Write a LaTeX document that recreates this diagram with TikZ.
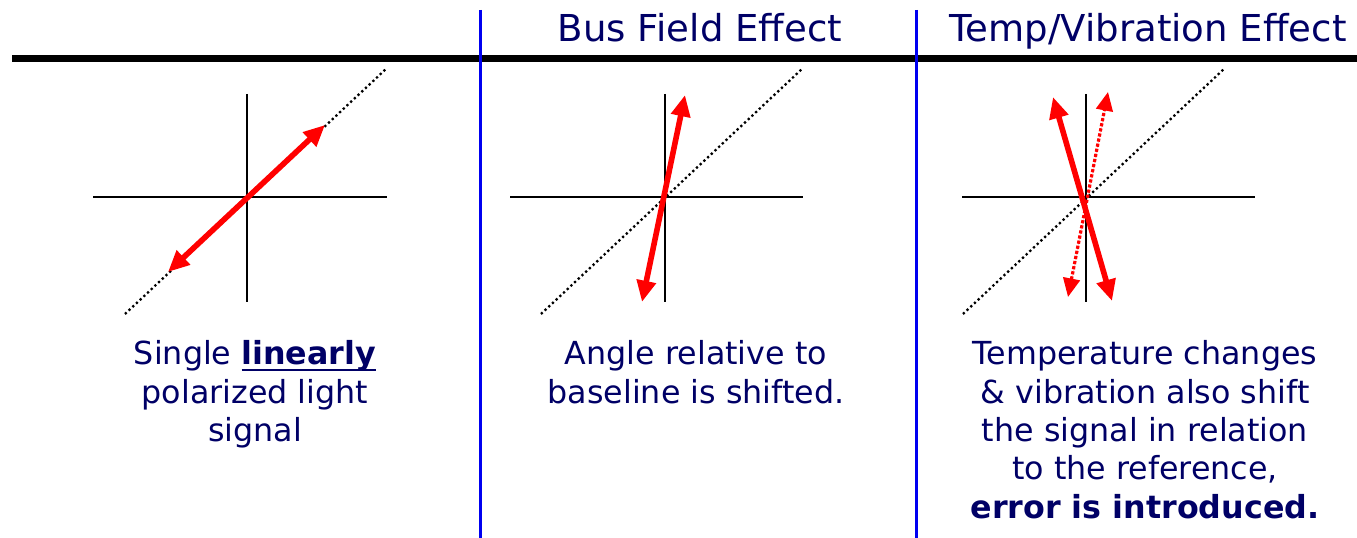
\documentclass[tikz,border=0pt]{standalone}
\usepackage{fontspec}
\setmainfont{DejaVu Sans}
\usetikzlibrary{arrows.meta}
\definecolor{textnavy}{HTML}{000066}
\definecolor{dividerblue}{HTML}{0000F0}
\definecolor{signalred}{HTML}{FF0000}
\newcommand{\lineunder}[1]{%
    \setbox0\hbox{#1}\rlap{\rule[-0.2em]{\wd0}{0.085em}}\box0}

\begin{document}
\begin{tikzpicture}[
    x=0.75pt, y=-0.75pt,
    % ── Text styles ──────────────────────────────────────────────────────
    heading/.style={
        font=\fontsize{27.8}{33}\selectfont,
        text=textnavy, anchor=base, inner sep=0pt
    },
    caption/.style={
        font=\fontsize{23.8}{28.7}\selectfont,
        text=textnavy, align=center, anchor=base, inner sep=0pt
    },
    % ── Line styles ──────────────────────────────────────────────────────
    divider/.style={draw=dividerblue, line width=2.25pt},
    headrule/.style={draw=black, line width=5.25pt},
    axis/.style={draw=black, line width=1.6pt},
    refline/.style={
        draw=black, line width=1.7pt,
        dash pattern=on 1.7pt off 2.1pt
    },
    % ── Arrow styles ─────────────────────────────────────────────────────
    signal/.style={
        {Triangle[length=16pt, width=14pt]}-{Triangle[length=16pt, width=14pt]},
        draw=signalred, fill=signalred, line width=4.2pt
    },
    shifted/.style={
        {Triangle[length=14pt, width=12.5pt]}-{Triangle[length=14pt, width=12.5pt]},
        draw=signalred, fill=signalred, line width=2.4pt,
        dash pattern=on 2.4pt off 1.5pt
    }
]
\useasboundingbox (0,0) rectangle (1357,538);

% ═══════════════════════════════════════════════════════════════════════════
% Header
% ═══════════════════════════════════════════════════════════════════════════
\draw[headrule] (12,58.5) -- (1357,58.5);
\draw[divider] (480,10) -- (480,538);
\draw[divider] (916,10) -- (916,538);

\node[heading] (busTitle)  at (700,42)  {Bus Field Effect};
\node[heading] (tempTitle) at (1148,42) {Temp/Vibration Effect};

% ═══════════════════════════════════════════════════════════════════════════
% Panel 1 -- baseline signal
% ═══════════════════════════════════════════════════════════════════════════
\draw[axis] (93,197) -- (387,197);
\draw[axis] (247,94) -- (247,302);
\draw[refline] (125,314) -- (387,68);

\coordinate (baseLow)  at (168,272);
\coordinate (baseHigh) at (325,125);
\draw[signal] (baseLow) -- (baseHigh);

% base of a multi-line caption = its last line
\node[caption] (capSingle) at (255,441.5)
    {Single \lineunder{\textbf{linearly}}\\polarized light\\signal};

% ═══════════════════════════════════════════════════════════════════════════
% Panel 2 -- bus field
% ═══════════════════════════════════════════════════════════════════════════
\draw[axis] (510,197) -- (803,197);
\draw[axis] (665,94) -- (665,302);
\draw[refline] (541,314) -- (803,68);

\coordinate (busLow)  at (642,302);
\coordinate (busHigh) at (685,95);
\draw[signal] (busLow) -- (busHigh);

\node[caption] (capBus) at (696,403.2)
    {Angle relative to\\baseline is shifted.};

% ═══════════════════════════════════════════════════════════════════════════
% Panel 3 -- temperature / vibration
% ═══════════════════════════════════════════════════════════════════════════
\draw[axis] (962,197) -- (1255,197);
\draw[axis] (1086,94) -- (1086,302);
\draw[refline] (963,314) -- (1225,68);

\coordinate (tempHigh) at (1053,97);
\coordinate (tempLow)  at (1112,301);
\draw[signal] (tempHigh) -- (tempLow);

\coordinate (driftLow)  at (1068,297);
\coordinate (driftHigh) at (1108,92);
\draw[shifted] (driftLow) -- (driftHigh);

\node[caption] (capTemp) at (1145,518)
    {Temperature changes\\\& vibration also shift\\the signal in relation\\to the reference,\\\textbf{error is introduced.}};

\end{tikzpicture}
\end{document}
